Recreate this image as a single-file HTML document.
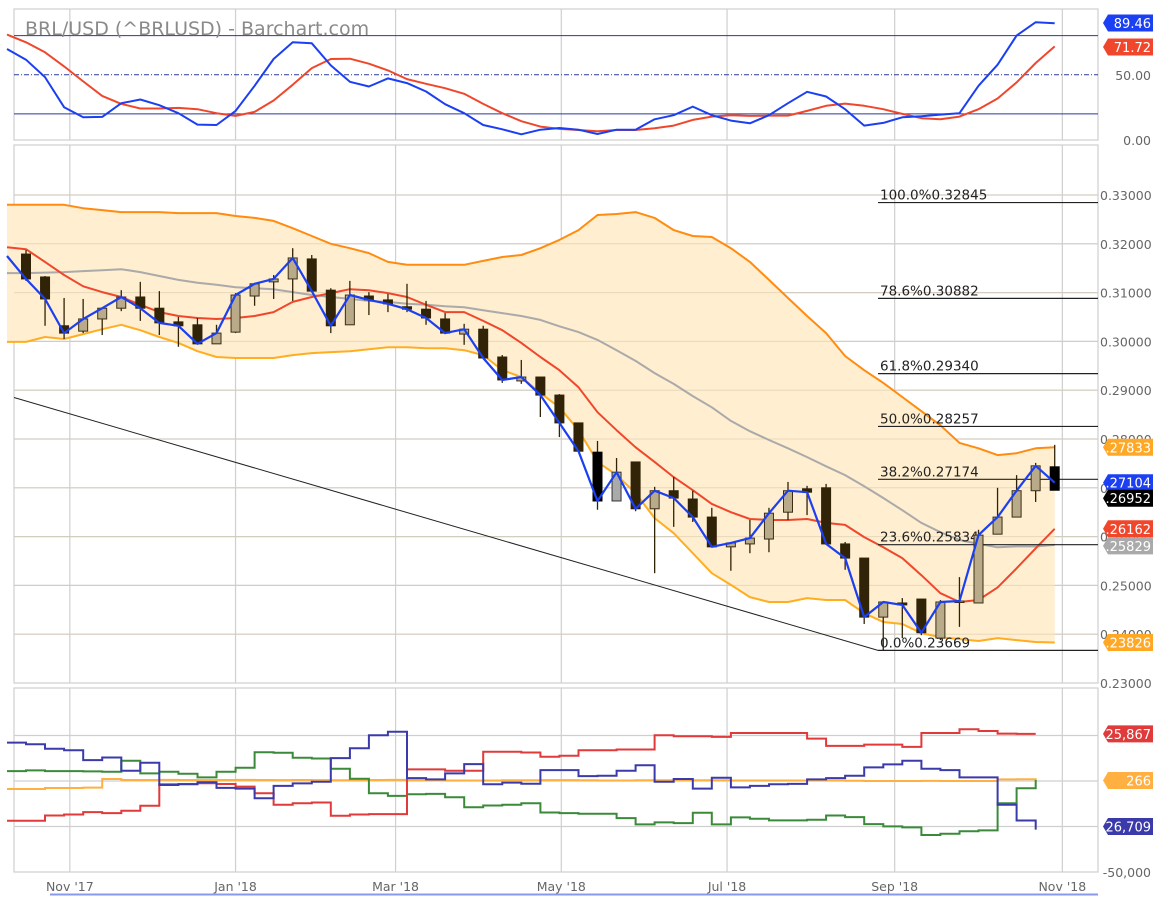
<!DOCTYPE html>
<html><head><meta charset="utf-8"><style>
html,body{margin:0;padding:0;background:#fff;}
svg{display:block;font-family:"DejaVu Sans","Liberation Sans",sans-serif;}
</style></head><body>
<svg id="chart" width="1156" height="910" viewBox="0 0 1156 910" xmlns="http://www.w3.org/2000/svg">
<g id="grid"></g>
<g id="main"></g>
<g id="top"></g>
<g id="bot"></g>
<g id="labels"></g>
<text x="25" y="35" font-size="19" fill="#8a8a8a">BRL/USD (^BRLUSD) - Barchart.com</text>
</svg>
<script>
const months = ["Nov '17","Jan '18","Mar '18","May '18","Jul '18","Sep '18","Nov '18"];
const monthIdx = [2.3,11,19.4,28.1,36.8,45.6,54.4];
const priceTicks = [0.33,0.32,0.31,0.30,0.29,0.28,0.27,0.26,0.25,0.24,0.23];
const open = [0.3179,0.3132,0.3032,0.3021,0.3046,0.3068,0.3091,0.3068,0.3040,0.3034,0.2995,0.3019,0.3093,0.3122,0.3128,0.3169,0.3105,0.3034,0.3093,0.3085,0.3071,0.3066,0.3046,0.3015,0.3025,0.2968,0.2919,0.2927,0.2890,0.2833,0.2773,0.2673,0.2753,0.2657,0.2694,0.2677,0.2640,0.2579,0.2585,0.2595,0.2650,0.2698,0.2700,0.2585,0.2556,0.2435,0.2464,0.2472,0.2392,0.2466,0.2464,0.2605,0.2640,0.2694,0.2743];
const high = [0.3187,0.3134,0.3089,0.3087,0.3068,0.3105,0.3122,0.3103,0.3050,0.3048,0.3034,0.3099,0.3120,0.3136,0.3191,0.3177,0.3109,0.3124,0.3101,0.3097,0.3118,0.3083,0.3058,0.3036,0.3032,0.2972,0.2962,0.2927,0.2892,0.2833,0.2796,0.2761,0.2753,0.2702,0.2722,0.2694,0.2659,0.2589,0.2634,0.2659,0.2712,0.2704,0.2708,0.2589,0.2556,0.2466,0.2474,0.2472,0.2470,0.2517,0.2614,0.2700,0.2726,0.2751,0.2788];
const low = [0.3124,0.3032,0.3005,0.3017,0.3013,0.3062,0.3042,0.3013,0.2989,0.2995,0.2995,0.3017,0.3073,0.3087,0.3083,0.3103,0.3017,0.3034,0.3054,0.3060,0.3060,0.3034,0.3015,0.2993,0.2964,0.2915,0.2913,0.2845,0.2804,0.2775,0.2655,0.2673,0.2652,0.2525,0.2620,0.2630,0.2579,0.2530,0.2566,0.2568,0.2634,0.2644,0.2583,0.2532,0.2421,0.2367,0.2392,0.2398,0.2388,0.2415,0.2464,0.2605,0.2640,0.2671,0.2695];
const close = [0.3128,0.3087,0.3017,0.3046,0.3068,0.3091,0.3068,0.3038,0.3032,0.2995,0.3017,0.3095,0.3118,0.3128,0.3171,0.3103,0.3032,0.3095,0.3085,0.3077,0.3066,0.3048,0.3017,0.3025,0.2966,0.2921,0.2927,0.2890,0.2833,0.2775,0.2673,0.2732,0.2657,0.2694,0.2679,0.2640,0.2579,0.2587,0.2597,0.2648,0.2694,0.2691,0.2585,0.2556,0.2435,0.2466,0.2460,0.2403,0.2466,0.2468,0.2603,0.2640,0.2694,0.2745,0.2695];
const blueStart = 0.3175;
const blueLast = 0.27104;
const upper = [0.3280,0.3280,0.3280,0.3273,0.3269,0.3265,0.3265,0.3265,0.3263,0.3263,0.3263,0.3257,0.3253,0.3247,0.3232,0.3216,0.3200,0.3191,0.3181,0.3163,0.3157,0.3157,0.3157,0.3157,0.3165,0.3173,0.3177,0.3191,0.3208,0.3228,0.3259,0.3261,0.3265,0.3253,0.3228,0.3216,0.3214,0.3191,0.3163,0.3126,0.3089,0.3052,0.3017,0.2970,0.2941,0.2915,0.2886,0.2857,0.2828,0.2792,0.2781,0.2767,0.2771,0.2781,0.2783];
const lower = [0.2999,0.3009,0.3005,0.3015,0.3025,0.3034,0.3023,0.3009,0.2997,0.2980,0.2968,0.2966,0.2966,0.2966,0.2972,0.2976,0.2978,0.2980,0.2984,0.2988,0.2988,0.2986,0.2986,0.2982,0.2972,0.2941,0.2927,0.2894,0.2865,0.2818,0.2753,0.2726,0.2689,0.2638,0.2607,0.2566,0.2525,0.2501,0.2476,0.2466,0.2466,0.2474,0.2470,0.2470,0.2443,0.2425,0.2421,0.2402,0.2394,0.2390,0.2386,0.2392,0.2388,0.2384,0.2383];
const maRed = [0.3189,0.3163,0.3136,0.3113,0.3101,0.3091,0.3075,0.3060,0.3052,0.3048,0.3046,0.3048,0.3052,0.3060,0.3081,0.3091,0.3099,0.3107,0.3105,0.3099,0.3091,0.3075,0.3060,0.3060,0.3042,0.3023,0.2997,0.2968,0.2941,0.2906,0.2855,0.2818,0.2783,0.2753,0.2722,0.2695,0.2667,0.2650,0.2636,0.2634,0.2634,0.2636,0.2628,0.2624,0.2599,0.2578,0.2556,0.2521,0.2484,0.2466,0.2470,0.2496,0.2535,0.2576,0.2616];
const maGray = [0.3140,0.3141,0.3142,0.3144,0.3146,0.3148,0.3142,0.3134,0.3126,0.3120,0.3116,0.3111,0.3109,0.3107,0.3101,0.3095,0.3091,0.3087,0.3083,0.3081,0.3077,0.3075,0.3072,0.3070,0.3064,0.3058,0.3052,0.3044,0.3031,0.3019,0.3003,0.2982,0.2960,0.2935,0.2913,0.2888,0.2865,0.2837,0.2816,0.2798,0.2781,0.2763,0.2744,0.2726,0.2703,0.2679,0.2654,0.2628,0.2609,0.2593,0.2585,0.2578,0.2580,0.2580,0.2583];
const fibPct = ["100.0%","78.6%","61.8%","50.0%","38.2%","23.6%","0.0%"];
const fibVal = [0.32845,0.30882,0.29340,0.28257,0.27174,0.25834,0.23669];
const trendStart = 0.2885;
const trendEnd = 0.23669;
const stochK = [69.7,61.5,48.2,25.1,17.4,17.7,28.2,31.0,26.7,20.5,11.8,11.5,22.3,41.5,62.1,74.9,74.1,57.2,44.6,41.0,47.2,43.6,37.2,27.4,20.5,11.5,8.2,4.4,7.9,9.2,7.9,4.6,7.9,7.9,15.9,19.0,25.6,19.0,14.9,12.8,19.0,28.2,36.9,33.3,23.6,11.0,13.1,17.4,18.2,19.5,20.5,41.5,57.7,80.0,90.3,89.46];
const stochD = [80.8,74.9,67.2,56.4,44.9,33.8,27.7,24.1,24.1,24.6,23.6,20.5,18.5,21.5,30.3,42.3,55.1,62.1,62.3,58.5,53.3,46.7,43.1,39.7,35.4,27.7,20.5,14.4,10.3,8.5,7.7,6.7,7.7,7.7,9.0,11.0,15.4,17.9,19.0,18.5,18.7,18.7,22.3,26.2,27.9,26.2,23.6,20.0,16.7,15.9,17.9,23.6,31.8,44.1,59.0,71.72];
const cotCommercial = [-21840,-21840,-18930,-18380,-17110,-17650,-16380,-13650,-1820,-1640,-1270,-1640,-3090,-6730,-13100,-12190,-11830,-19110,-18380,-18200,-18200,6370,6370,5640,5640,16020,16020,15650,13290,13830,16930,16930,17290,17290,25120,24570,24570,24210,26390,26390,26390,26390,23300,19290,19290,20020,20020,18750,26390,26390,28390,27480,26030,25867,25867];
const cotLarge = [21100,20200,17700,16900,11500,12900,5600,10000,-2200,-1800,-700,-3800,-4200,-9500,-2700,-1300,-400,12600,18000,25100,27100,1600,900,4200,9300,-1800,-900,-1500,6000,6000,2700,2900,5600,8600,-400,1100,-4200,1800,-3500,-2700,-1800,-1600,900,1600,2900,7500,9100,11100,6700,6000,2000,2000,-13100,-21700,-26709];
const cotSmall = [5460,5820,5460,5460,5280,5100,11100,4190,5100,4000,2000,5100,7280,15830,15470,12740,12380,6730,1270,-6730,-8190,-7280,-7100,-8920,-14380,-13470,-13100,-12190,-17290,-17650,-18020,-18020,-20380,-23840,-22750,-23110,-17470,-23840,-20020,-20750,-21660,-21660,-21290,-18930,-19840,-23660,-24930,-25480,-29670,-28940,-27660,-27120,-12190,-4000,550];
const cotOI = [-4370,-4370,-3820,-3820,-3640,1090,550,550,600,550,500,550,600,550,500,550,500,450,500,550,600,500,400,300,300,300,400,400,500,500,400,300,300,400,450,500,400,400,300,300,250,300,350,300,100,0,0,0,50,0,0,0,900,950,266];
const cotTicks = [25000,0,-25000,-50000];

const NS = "http://www.w3.org/2000/svg";
function mk(parent, tag, attrs, text){const e=document.createElementNS(NS,tag);for(const k in attrs)e.setAttribute(k,attrs[k]);if(text!==undefined)e.textContent=text;parent.appendChild(e);return e;}
const X0 = 26, DX = 19.05, XSTART = 7, PL = 14, PR = 1098;
function xs(i){return X0 + DX*i;}
function yP(v){return 195 + (0.33 - v)*4880;}
function yS(v){return 140 - v*1.305;}
function yC(v){return 781 - v*0.00182;}

const grid = document.getElementById('grid');
const main = document.getElementById('main');
const top_ = document.getElementById('top');
const bot = document.getElementById('bot');
const labels = document.getElementById('labels');

[[9,140],[145,683],[688,872]].forEach((p,k)=>{
  const r = mk(grid,'rect',{x:PL,y:p[0],width:PR-PL,height:p[1]-p[0],fill:'none',stroke:'#cfcfcf','stroke-width':1.2});
  
  
});
monthIdx.forEach((m,k)=>{
  const x = xs(m);
  [[9,140],[145,683],[688,872]].forEach(p=>{
    const l = mk(grid,'line',{x1:x,x2:x,y1:p[0],y2:p[1],stroke:'#cfcfcf','stroke-width':1.2});
    
    
  });
  const t = mk(labels,'text',{x:x,y:891,'font-size':12.5,fill:'#666','text-anchor':'middle'},months[k]);
  
  
});
const ul = mk(labels,'line',{x1:50,x2:PR,y1:894.5,y2:894.5,stroke:'#8899ee','stroke-width':2});



priceTicks.forEach(v=>{
  const y = yP(v);
  if (v>0.2305){
    const l = mk(grid,'line',{x1:PL,x2:PR,y1:y,y2:y,stroke:'#cfcfcf','stroke-width':1.2});
    
    
  }
  const t = mk(labels,'text',{x:1100,y:y+5,'font-size':12.5,fill:'#666'},v.toFixed(5));
  
  
});

let pts = [[XSTART,yP(upper[0])]];
upper.forEach((v,i)=>pts.push([xs(i),yP(v)]));
for(let i=lower.length-1;i>=0;i--) pts.push([xs(i),yP(lower[i])]);
pts.push([XSTART,yP(lower[0])]);
const band = mk(main,'polygon',{points:pts.map(p=>p.join(',')).join(' '),fill:'#ffeecf',stroke:'none'});


priceTicks.forEach(v=>{
  const y=yP(v); if(v<0.2305) return;
  const l = mk(main,'line',{x1:PL,x2:PR,y1:y,y2:y,stroke:'#d9cbb0','stroke-width':1,opacity:0.6});
  
  
});

function linePath(parent, arr, yf, color, w, name, startVal){
  let d = '';
  if(startVal!==undefined) d = 'M'+XSTART+','+yf(startVal);
  arr.forEach((v,i)=>{d += (d?'L':'M')+xs(i).toFixed(1)+','+yf(v).toFixed(1);});
  const p = mk(parent,'path',{d:d,fill:'none',stroke:color,'stroke-width':w,'stroke-linejoin':'round'});
  
  
  return p;
}

const tl = mk(main,'line',{x1:PL,y1:yP(trendStart),x2:878,y2:yP(trendEnd),stroke:'#222','stroke-width':1});



linePath(main, upper, yP, '#ff8c10', 2, 'upper-band', upper[0]);
linePath(main, lower, yP, '#ffae22', 2, 'lower-band', lower[0]);
linePath(main, maGray, yP, '#aaaaaa', 2, 'moving-average-gray', maGray[0]);
linePath(main, maRed, yP, '#f0472c', 2, 'moving-average-red', 0.3193);

fibVal.forEach((v,k)=>{
  const y = yP(v);
  const l = mk(main,'line',{x1:878,x2:PR,y1:y,y2:y,stroke:'#222','stroke-width':1.2});
  
  
  const t = mk(main,'text',{x:880,y:y-3,'font-size':13.5,fill:'#222'},fibPct[k]+v.toFixed(5));
  
  
});

const special = {30:['#000','#000'],31:['#aaaaaa','#333'],54:['#000','#000']};
open.forEach((o,i)=>{
  const c = close[i], x = xs(i);
  const up = c>=o;
  let fill = up ? '#b9aa8a' : '#302307';
  let stroke = up ? '#3a2e14' : '#302307';
  if(special[i]){fill=special[i][0];stroke=special[i][1];}
  const g = mk(main,'g',{});
  
  
  const w = mk(g,'line',{x1:x,x2:x,y1:yP(high[i]),y2:yP(low[i]),stroke:'#302307','stroke-width':1.3});
  
  
  const yt = yP(Math.max(o,c)), yb = yP(Math.min(o,c));
  const b = mk(g,'rect',{x:x-4.5,y:yt,width:9,height:Math.max(1.5,yb-yt),fill:fill,stroke:stroke,'stroke-width':1});
  
  
});
const blueVals = close.slice(0,-1).concat([blueLast]);
linePath(main, blueVals, yP, '#1b3ff2', 2.2, 'close-line', blueStart);

function tag(y,color,text,name,tc){
  const g = mk(labels,'g',{});
  
  
  mk(g,'polygon',{points:`1103,${y} 1108,${y-8.5} 1153,${y-8.5} 1153,${y+8.5} 1108,${y+8.5}`,fill:color});
  mk(g,'text',{x:1151,y:y+5,'font-size':13,fill:tc||'#fff','text-anchor':'end'},text);
}
tag(yP(upper[upper.length-1]),'#ffa826','.27833','upper-band-tag');
tag(yP(blueLast),'#1b3ff2','.27104','close-line-tag');
tag(yP(close[close.length-1])+8,'#000','.26952','last-price-tag');
tag(yP(maRed[maRed.length-1]),'#f0472c','.26162','red-ma-tag');
tag(yP(maGray[maGray.length-1])+1,'#aaaaaa','.25829','gray-ma-tag');
tag(yP(lower[lower.length-1]),'#ffa826','.23826','lower-band-tag');

[80,20].forEach(v=>{
  const l = mk(top_,'line',{x1:PL,x2:PR,y1:yS(v),y2:yS(v),stroke:'#2a3a9a','stroke-width':1});
  
  
});
const mid = mk(top_,'line',{x1:PL,x2:PR,y1:yS(50),y2:yS(50),stroke:'#2a3a9a','stroke-width':1,'stroke-dasharray':'5,2,1,2'});


function stochLine(arr,color,name){
  let d='M'+XSTART+','+yS(arr[0]);
  for(let i=1;i<arr.length;i++) d+='L'+xs(i-1).toFixed(1)+','+yS(arr[i]).toFixed(1);
  const p = mk(top_,'path',{d:d,fill:'none',stroke:color,'stroke-width':2,'stroke-linejoin':'round'});
  
  
}
stochLine(stochD,'#f0472c','stoch-d-line');
stochLine(stochK,'#1b3ff2','stoch-k-line');
[[50,'50.00'],[0,'0.00']].forEach(a=>{
  const t = mk(labels,'text',{x:1151,y:yS(a[0])+5,'font-size':12.5,fill:'#666','text-anchor':'end'},a[1]);
  
  
});
tag(23,'#1b3ff2','89.46','stoch-k-tag');
tag(47,'#f0472c','71.72','stoch-d-tag');

cotTicks.forEach(v=>{
  if(v>-50000){
    const l = mk(bot,'line',{x1:PL,x2:PR,y1:yC(v),y2:yC(v),stroke:'#cfcfcf','stroke-width':1.2});
    
    
  }
});
const t50 = mk(labels,'text',{x:1151,y:yC(-50000)+5,'font-size':12.5,fill:'#666','text-anchor':'end'},'-50,000');


function stepLine(arr,color,name){
  let d='M'+XSTART+','+yC(arr[0]).toFixed(1);
  for(let k=0;k<arr.length-1;k++){
    d+='H'+xs(k).toFixed(1)+'V'+yC(arr[k+1]).toFixed(1);
  }
  const p = mk(bot,'path',{d:d,fill:'none',stroke:color,'stroke-width':2});
  
  
}
stepLine(cotOI,'#ffb040','cot-open-interest');
stepLine(cotSmall,'#3a8a3a','cot-small-traders');
stepLine(cotCommercial,'#e03a3a','cot-commercials');
stepLine(cotLarge,'#3a3aaa','cot-large-speculators');
tag(yC(cotCommercial[cotCommercial.length-1]),'#e03a3a','25,867','cot-commercial-tag');
tag(yC(cotOI[cotOI.length-1]),'#ffb040','266','cot-oi-tag');
tag(yC(-25000),'#3a3aaa','26,709','cot-large-tag');
</script>
</body></html>
